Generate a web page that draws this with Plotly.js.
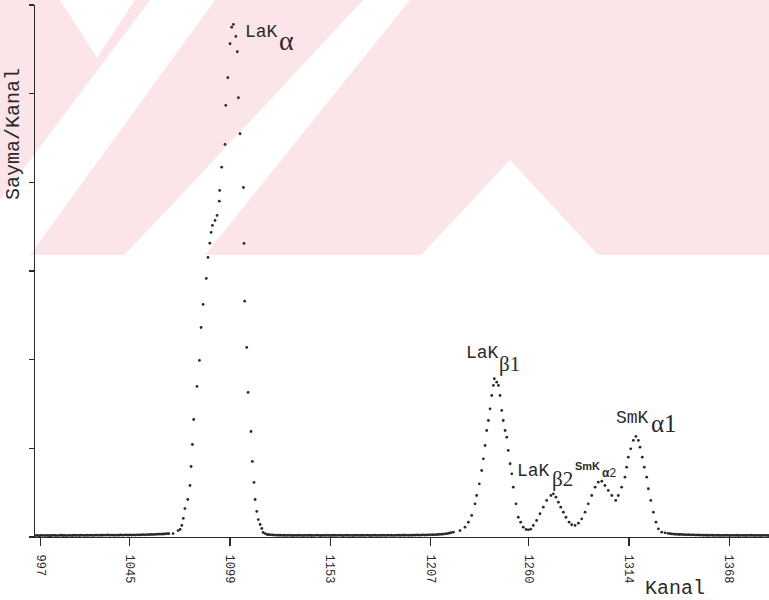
<!DOCTYPE html>
<html>
<head>
<meta charset="utf-8">
<script src="https://cdn.plot.ly/plotly-3.0.1.min.js"></script>
<style>
  html, body { margin: 0; padding: 0; background: #ffffff; }
  #chart { width: 769px; height: 600px; }
</style>
</head>
<body>
<div id="chart"></div>
<script>
// Background counts per channel (flat regions of the spectrum)
const solZeminBaslangic = 994;
const solZemin = [
  16,18,15,17,19,16,18,17,15,18,
  19,17,16,18,20,17,18,16,19,18,
  17,20,18,19,17,21,19,18,20,19,
  21,18,20,22,19,21,20,22,21,23,
  20,22,21,19,22,20,23,21,22,24,
  21,23,22,24,22,25,23,24,26,25,
  27,26,28,27,29,30,31,33,32,34,
  35,37,38
];
const ortaZeminBaslangic = 1120;
const ortaZemin = [
  26,24,23,22,21,20,21,19,20,18,
  19,20,18,17,19,18,20,19,17,18,
  19,18,20,17,18,19,21,18,17,19,
  18,20,19,17,18,20,18,19,21,18,
  17,19,20,18,19,17,18,20,19,18,
  20,18,19,21,18,17,19,20,18,19,
  18,20,19,18,21,19,20,18,19,21,
  20,19,21,20,22,19,21,20,22,21,
  23,21,22,24,22,23,25,24,26,25,
  27,28,30,31,33,36,39,43,48
];
const sagZeminBaslangic = 1335;
const sagZemin = [
  42,38,35,33,31,30,28,29,27,26,
  25,26,24,23,24,22,23,21,22,20,
  21,20,19,21,20,18,19,20,18,19,
  18,20,19,17,18,19,18,20,17,18,
  19,18,17,19,18,20,18,17,19,18,
  17,18,19,18,17
];

// LaK-alpha peak
const laKalphaKanal = [
  1068.3,1071.0,1072.1,1073.0,1073.8,1074.7,1076.2,1077.4,1078.0,1078.7,
  1079.4,1081.2,1082.5,1083.4,1084.5,1086.2,1087.1,1088.1,1088.8,1089.5,
  1090.9,1092.0,1093.2,1093.4,1094.5,1096.3,1096.7,1097.8,1099.0,1099.9,
  1100.8,1102.1,1102.9,1103.5,1104.4,1106.2,1106.5,1106.9,1108.0,1108.7,
  1110.3,1111.0,1111.9,1112.5,1113.4,1114.2,1115.2,1116.1,1116.8,1117.9,
  1119.0
];
const laKalphaSayim = [
  39,73,85,130,209,321,423,581,795,1043,
  1325,1698,1991,2363,2623,2916,3153,3314,3435,3514,
  3570,3627,3788,3909,4171,4427,4867,5180,5563,5750,
  5781,5646,5473,4954,4548,3942,3311,2660,2138,1630,
  1190,852,615,423,288,197,141,96,51,39,
  28
];

// LaK-beta1, LaK-beta2, SmK-alpha2, SmK-alpha1 group
const grupKanal = [
  1219.3,1222.9,1225.6,1227.4,1229.2,1231.0,1231.9,1233.3,1234.6,1235.5,
  1236.4,1237.3,1238.2,1239.1,1240.0,1240.9,1241.4,1242.7,1243.6,1244.5,
  1245.4,1246.2,1247.2,1248.1,1248.9,1249.9,1250.8,1251.6,1253.1,1254.3,
  1255.6,1257.0,1258.5,1259.7,1261.0,1262.4,1264.2,1266.0,1267.8,1269.6,
  1271.9,1273.2,1274.6,1275.9,1277.2,1278.6,1280.0,1281.7,1283.1,1284.9,
  1286.7,1288.5,1290.3,1292.0,1293.9,1295.7,1297.4,1299.3,1301.0,1302.8,
  1304.7,1306.8,1308.2,1310.0,1311.8,1312.7,1313.6,1314.9,1316.3,1317.7,
  1319.0,1319.9,1321.1,1322.2,1323.5,1324.4,1325.7,1327.1,1328.5,1329.8,
  1331.6,1333.4
];
const grupSayim = [
  54,73,111,167,243,374,468,600,750,882,
  1032,1201,1314,1446,1596,1709,1785,1746,1709,1596,
  1427,1314,1201,1126,976,826,713,562,374,223,
  167,111,85,81,88,130,186,262,336,412,
  468,487,449,393,336,280,223,167,138,130,
  156,205,280,374,468,562,618,629,581,525,
  468,412,468,562,675,787,900,995,1089,1134,
  1089,1013,900,787,675,544,412,280,167,92,
  54,47
];

// Axis ticks
const kanalTikleri = [997, 1045, 1099, 1153, 1207, 1260, 1314, 1368];
const kanalTikYazilari = ['997', '1045', '1099', '1153', '1207', '1260', '1314', '1368'];
const saymaTikleri = [0, 1000, 2000, 3000, 4000, 5000, 6000];

// Assemble the full dotted spectrum
const kanal = [], sayim = [];
solZemin.forEach((v, i) => { kanal.push(solZeminBaslangic + i); sayim.push(v); });
laKalphaKanal.forEach((k, i) => { kanal.push(k); sayim.push(laKalphaSayim[i]); });
ortaZemin.forEach((v, i) => { kanal.push(ortaZeminBaslangic + i); sayim.push(v); });
grupKanal.forEach((k, i) => { kanal.push(k); sayim.push(grupSayim[i]); });
sagZemin.forEach((v, i) => { kanal.push(sagZeminBaslangic + i); sayim.push(v); });

const MONO = '"Courier New", "Liberation Mono", monospace';
const SERIF = '"Liberation Serif", "DejaVu Serif", serif';
const SANS = '"Liberation Sans", Arial, sans-serif';
const INK = '#2a2a2a';

// plot-area geometry (pixels) used to place free-standing text and backdrop
const M = { l: 35, r: 0, t: 5, b: 63 };
const PW = 769 - M.l - M.r, PH = 600 - M.t - M.b;
const px2paperX = p => (p - M.l) / PW;
const px2paperY = p => (600 - M.b - p) / PH;

function label(x, y, text, size, family, extra) {
  return Object.assign({
    x: x, y: y, xref: 'x', yref: 'y', text: text, showarrow: false,
    xanchor: 'center', yanchor: 'middle',
    font: { family: family, size: size, color: INK }
  }, extra || {});
}

const annotations = [
  label(1116.0, 5690, 'LaK', 18, MONO),
  label(1129.6, 5600, 'α', 28, SERIF),
  label(1234.8, 2077, 'LaK', 18, MONO),
  label(1249.8, 1950, 'β1', 21, SERIF),
  label(1262.5, 740, 'LaK', 18, MONO),
  label(1278.0, 650, 'β2', 21, SERIF),
  label(1291.4, 798, '<b>SmK</b>', 11, SANS),
  label(1303.2, 720, '<b>α</b>2', 12, SANS),
  label(1315.8, 1343, 'SmK', 18, MONO),
  label(1333.0, 1280, 'α1', 25, SERIF),
  {
    x: px2paperX(14), y: px2paperY(134), xref: 'paper', yref: 'paper',
    text: 'Sayma/Kanal', textangle: -90, showarrow: false,
    xanchor: 'center', yanchor: 'middle',
    font: { family: MONO, size: 20, color: INK }
  },
  {
    x: px2paperX(675), y: px2paperY(588), xref: 'paper', yref: 'paper',
    text: 'Kanal', showarrow: false, xanchor: 'center', yanchor: 'middle',
    font: { family: MONO, size: 20, color: INK }
  }
];

// pale pink sheet emblem behind the upper part, cut by white diagonal bands
function polyPath(pts) {
  return 'M ' + pts.map(p => px2paperX(p[0]).toFixed(5) + ',' + px2paperY(p[1]).toFixed(5)).join(' L ') + ' Z';
}
const PINK = '#fce5e9';
const emblemCuts = [
  [[60, 0], [135, 0], [97, 58]],
  [[0, 200], [150, 0], [215, 0], [30, 255], [0, 255]],
  [[170, 207], [363, 0], [410, 0], [205, 255], [124, 255]],
  [[421, 255], [510, 160], [598, 255]]
];
const shapes = [
  { type: 'rect', xref: 'paper', yref: 'paper', layer: 'below',
    x0: px2paperX(0), x1: px2paperX(769), y0: px2paperY(255), y1: px2paperY(0),
    fillcolor: PINK, line: { width: 0 } }
].concat(emblemCuts.map(pts => ({
  type: 'path', xref: 'paper', yref: 'paper', layer: 'below',
  path: polyPath(pts), fillcolor: '#ffffff', line: { width: 0 }
})));

const trace = {
  x: kanal, y: sayim, type: 'scatter', mode: 'markers',
  marker: { size: 2.8, color: INK },
  hoverinfo: 'x+y'
};

const layout = {
  width: 769, height: 600,
  margin: M,
  paper_bgcolor: '#ffffff',
  plot_bgcolor: 'rgba(0,0,0,0)',
  showlegend: false,
  xaxis: {
    range: [993.9, 1389.4],
    tickvals: kanalTikleri, ticktext: kanalTikYazilari,
    tickangle: 90, ticks: 'outside', ticklen: 8, tickwidth: 1.2, tickcolor: INK,
    ticklabelstandoff: 6,
    showline: true, linecolor: INK, linewidth: 1.2,
    showgrid: false, zeroline: false,
    tickfont: { family: MONO, size: 12, color: INK }
  },
  yaxis: {
    range: [0, 6000],
    tickvals: saymaTikleri, showticklabels: false,
    ticks: 'outside', ticklen: 5, tickwidth: 1.2, tickcolor: INK,
    showline: true, linecolor: INK, linewidth: 1.2,
    showgrid: false, zeroline: false
  },
  annotations: annotations,
  shapes: shapes
};

Plotly.newPlot('chart', [trace], layout, { staticPlot: true, displayModeBar: false });
</script>
</body>
</html>
